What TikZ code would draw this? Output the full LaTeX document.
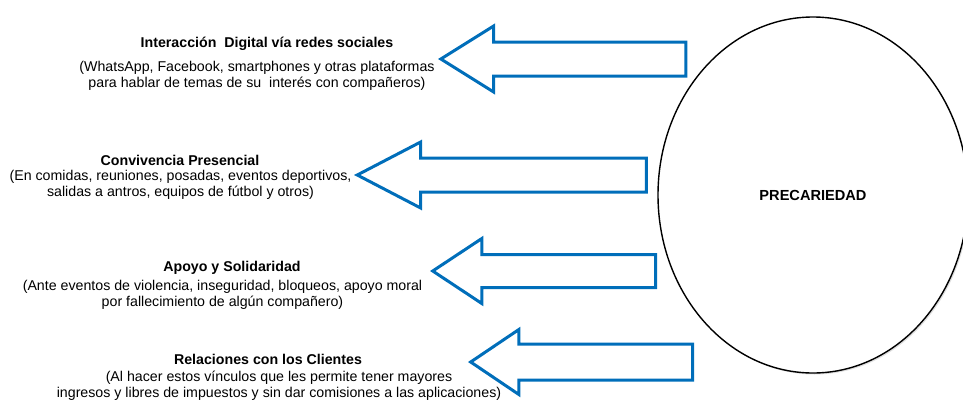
\documentclass[tikz,border=0pt]{standalone}
\usepackage{fontspec}
\setmainfont{Liberation Sans}
\usetikzlibrary{positioning,shapes.arrows,shapes.geometric,shadows}
\definecolor{arrowblue}{RGB}{0,110,186}

\begin{document}
\begin{tikzpicture}[x=1pt, y=-1pt,
				bigarrow/.style={single arrow, shape border rotate=180, anchor=tip, draw=arrowblue, line width=3pt, fill=white, inner xsep=0pt, inner ysep=15.5pt, single arrow head extend=16pt},
				title/.style={font=\fontsize{14.2}{15.7}\selectfont\bfseries, inner sep=0pt},
				desc/.style={font=\fontsize{14.2}{15.7}\selectfont, align=center, inner sep=0pt},
				circ/.style={ellipse, draw=black, line width=1.4pt, fill=white, minimum width=310pt, minimum height=356pt, drop shadow={opacity=.25, shadow xshift=1.5pt, shadow yshift=-1.5pt}}
			]
			\useasboundingbox (0,0) rectangle (963,407);
			\clip (0,0) rectangle (963,407);
			\node[circ] (prec) at (813,195) {\bfseries\fontsize{14.6}{16}\selectfont PRECARIEDAD};
			\node[bigarrow, minimum height=245pt, single arrow tip angle=64] (arrdigital) at (438,59) {};
			\node[bigarrow, minimum height=289pt, single arrow tip angle=55] (arrconv) at (354,175) {};
			\node[bigarrow, minimum height=223pt, single arrow tip angle=67, inner ysep=15pt] (arrapoyo) at (430,271) {};
			\node[bigarrow, minimum height=222pt, single arrow tip angle=68, inner ysep=16.5pt, single arrow head extend=14.5pt] (arrclientes) at (468,362) {};
			\node[title] (digital) at (267,44) {Interacción~ Digital vía redes sociales};
			\node[desc] (digitaldesc) at (257,76) {(WhatsApp, Facebook, smartphones y otras plataformas\\para hablar de temas de su~ interés con compañeros)};
			\node[title] (conv) at (180,160) {Convivencia Presencial};
			\node[desc] (convdesc) at (180.5,184.5) {(En comidas, reuniones, posadas, eventos deportivos,\\salidas a antros, equipos de fútbol y otros)};
			\node[title] (apoyo) at (232,268) {Apoyo y Solidaridad};
			\node[desc] (apoyodesc) at (222.5,295) {(Ante eventos de violencia, inseguridad, bloqueos, apoyo moral\\por fallecimiento de algún compañero)};
			\node[title] (clientes) at (268,359) {Relaciones con los Clientes};
			\node[desc] (clientesdesc) at (279,385.5) {(Al hacer estos vínculos que les permite tener mayores\\ingresos y libres de impuestos y sin dar comisiones a las aplicaciones)};
			\end{tikzpicture}
\end{document}
